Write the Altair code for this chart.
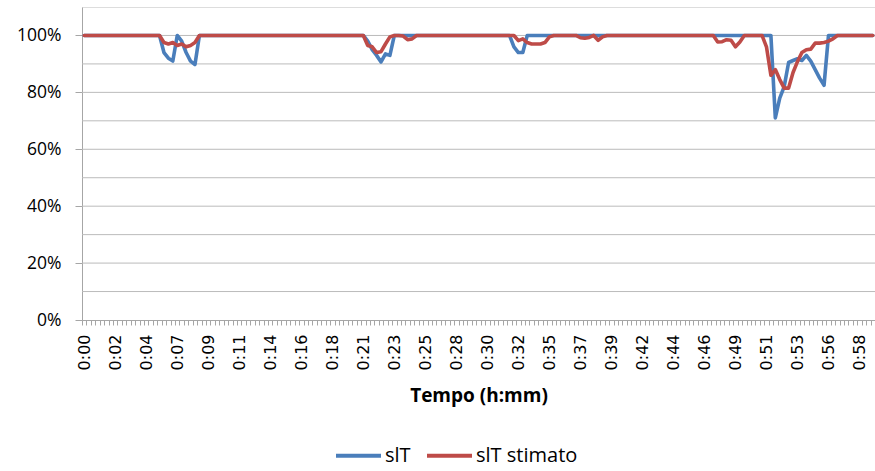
import json
import altair as alt
import pandas as pd

series_names = ["slT", "slT stimato"]
series_colors = ["#4A7EBB", "#BE4B48"]

x_labels = ["0:00", "0:02", "0:04", "0:07", "0:09", "0:11", "0:14", "0:16", "0:18",
            "0:21", "0:23", "0:25", "0:28", "0:30", "0:32", "0:35", "0:37", "0:39",
            "0:42", "0:44", "0:46", "0:49", "0:51", "0:53", "0:56", "0:58"]
label_every = 7

y_label_values = [0, 20, 40, 60, 80, 100]
grid_values = [10, 20, 30, 40, 50, 60, 70, 80, 90, 100]

slT = [
    100, 100, 100, 100, 100, 100, 100, 100, 100, 100,
    100, 100, 100, 100, 100, 100, 100, 100, 94, 92,
    91, 100, 98, 94, 91, 89.8, 100, 100, 100, 100,
    100, 100, 100, 100, 100, 100, 100, 100, 100, 100,
    100, 100, 100, 100, 100, 100, 100, 100, 100, 100,
    100, 100, 100, 100, 100, 100, 100, 100, 100, 100,
    100, 100, 100, 100, 98, 95, 93, 90.7, 93.5, 93,
    100, 100, 100, 100, 100, 100, 100, 100, 100, 100,
    100, 100, 100, 100, 100, 100, 100, 100, 100, 100,
    100, 100, 100, 100, 100, 100, 100, 96, 94, 94,
    100, 100, 100, 100, 100, 100, 100, 100, 100, 100,
    100, 100, 100, 100, 100, 100, 100, 100, 100, 100,
    100, 100, 100, 100, 100, 100, 100, 100, 100, 100,
    100, 100, 100, 100, 100, 100, 100, 100, 100, 100,
    100, 100, 100, 100, 100, 100, 100, 100, 100, 100,
    100, 100, 100, 100, 100, 100, 71, 78, 82, 90.5,
    91.2, 91.8, 91.2, 93, 91, 88, 85, 82.5, 100, 100,
    100, 100, 100, 100, 100, 100, 100, 100, 100,
]

slT_stimato = [
    100, 100, 100, 100, 100, 100, 100, 100, 100, 100,
    100, 100, 100, 100, 100, 100, 100, 100, 97.5, 97,
    97.5, 96.5, 97, 96, 96.5, 97.5, 100, 100, 100, 100,
    100, 100, 100, 100, 100, 100, 100, 100, 100, 100,
    100, 100, 100, 100, 100, 100, 100, 100, 100, 100,
    100, 100, 100, 100, 100, 100, 100, 100, 100, 100,
    100, 100, 100, 100, 96.5, 96, 94, 94.3, 97, 99.5,
    100, 100, 99.8, 98.5, 98.8, 100, 100, 100, 100, 100,
    100, 100, 100, 100, 100, 100, 100, 100, 100, 100,
    100, 100, 100, 100, 100, 100, 100, 100, 98.2, 98.8,
    97.5, 97, 97, 97, 97.5, 99.5, 100, 100, 100, 100,
    100, 100, 99.2, 99, 99.3, 100, 98.3, 99.5, 100, 100,
    100, 100, 100, 100, 100, 100, 100, 100, 100, 100,
    100, 100, 100, 100, 100, 100, 100, 100, 100, 100,
    100, 100, 100, 97.7, 97.8, 98.5, 98.3, 96, 97.7, 100,
    100, 100, 100, 100, 96, 86, 88, 84.5, 81.5, 81.5,
    87, 90.8, 94, 95, 95.2, 97.3, 97.3, 97.5, 98, 98.8,
    100, 100, 100, 100, 100, 100, 100, 100, 100,
]

n_points = len(slT)

rows = []
for name, vals in zip(series_names, [slT, slT_stimato]):
    for i, v in enumerate(vals):
        rows.append({"idx": i, "value": v, "series": name})
df = pd.DataFrame(rows)
grid_df = pd.DataFrame({"g": grid_values})

tick_vals = [k - 0.5 for k in range(n_points + 1)]
labels_js = json.dumps(x_labels)
label_expr = (
    f"((datum.value + 0.5) % {label_every} == 0 && (datum.value + 0.5) / {label_every} < {len(x_labels)})"
    f" ? {labels_js}[(datum.value + 0.5) / {label_every}] : ''"
)

y_scale = alt.Scale(domain=[0, 110], nice=False)
y_axis = alt.Axis(
    values=y_label_values,
    labelExpr="datum.value + '%'",
    labelFont="Open Sans",
    labelFontSize=17.5,
    labelColor="#000000",
    labelPadding=14,
    tickSize=7,
    tickColor="#A6A6A6",
    domainColor="#A6A6A6",
    grid=False,
    title=None,
)

grid = alt.Chart(grid_df).mark_rule(color="#BBBBBB", strokeWidth=1).encode(
    y=alt.Y("g:Q", axis=y_axis, scale=y_scale)
)

lines = alt.Chart(df).mark_line(strokeWidth=3.6, strokeJoin="round", strokeCap="round").encode(
    x=alt.X(
        "idx:Q",
        scale=alt.Scale(domain=[-0.5, n_points - 0.5], nice=False, zero=False),
        axis=alt.Axis(
            values=tick_vals,
            labelExpr=label_expr,
            labelAngle=270,
            labelOverlap=False,
            labelFlush=False,
            labelBound=False,
            labelOffset=2.2,
            labelFont="DejaVu Sans",
            labelFontSize=16,
            labelColor="#000000",
            labelPadding=9,
            tickSize=5,
            tickColor="#A6A6A6",
            domainColor="#A6A6A6",
            grid=False,
            title="Tempo (h:mm)",
            titleFont="Open Sans",
            titleFontSize=19,
            titleFontWeight="bold",
            titleColor="#000000",
            titlePadding=17,
        ),
    ),
    y=alt.Y("value:Q", scale=y_scale, axis=y_axis),
    color=alt.Color(
        "series:N",
        scale=alt.Scale(domain=series_names, range=series_colors),
        legend=alt.Legend(
            orient="none",
            legendX=252,
            legendY=424,
            direction="horizontal",
            title=None,
            symbolType="stroke",
            symbolSize=2025,
            symbolStrokeWidth=4,
            labelFont="Open Sans",
            labelFontSize=20,
            labelColor="#000000",
            labelOffset=2,
            columnPadding=8,
        ),
    ),
)

chart = alt.layer(grid, lines).properties(
    width=793,
    height=313,
    autosize=alt.AutoSizeParams(type="none"),
    padding={"left": 82, "top": 7, "right": 0, "bottom": 151},
).configure_view(stroke=None).configure(background="white")

chart.save("out.html", embed_options={"renderer": "svg", "actions": False})
